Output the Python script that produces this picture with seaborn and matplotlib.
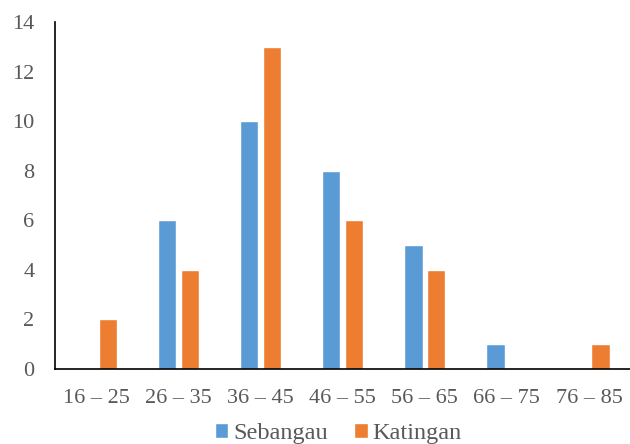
import pandas as pd
import matplotlib.pyplot as plt
import seaborn as sns

# Data
categories = ['16 – 25', '26 – 35', '36 – 45', '46 – 55', '56 – 65', '66 – 75', '76 – 85']
sebangau = [0, 6, 10, 8, 5, 1, 0]
katingan = [2, 4, 13, 6, 4, 0, 1]

COLORS = ['#5B9BD5', '#ED7D31']
TEXT = '#595959'

df = pd.DataFrame({
    'Umur': categories * 2,
    'Jumlah': sebangau + katingan,
    'Lokasi': ['Sebangau'] * len(categories) + ['Katingan'] * len(categories),
})

sns.set_style('white')
plt.rcParams['font.family'] = ['Liberation Serif', 'DejaVu Serif']

fig, ax = plt.subplots(figsize=(6.3, 4.44), dpi=100)
fig.subplots_adjust(left=0.088, right=1.0, top=0.95, bottom=0.17)

sns.barplot(data=df, x='Umur', y='Jumlah', hue='Lokasi', palette=COLORS,
            width=0.56, gap=0.2, ax=ax, saturation=1, legend=True)

ax.set_ylim(0, 14)
ax.set_yticks(range(0, 15, 2))
ax.set_xlim(-0.5, 6.5)
ax.set_xlabel('')
ax.set_ylabel('')
ax.tick_params(axis='both', length=0, labelsize=16, colors=TEXT)
ax.tick_params(axis='y', pad=15)
ax.tick_params(axis='x', pad=15)

for s in ['top', 'right']:
    ax.spines[s].set_visible(False)
for s in ['left', 'bottom']:
    ax.spines[s].set_color('black')
    ax.spines[s].set_linewidth(1.2)

ax.legend(loc='center', bbox_to_anchor=(0.537, 0.024), bbox_transform=fig.transFigure,
          ncol=2, frameon=False, borderpad=0, borderaxespad=0,
          fontsize=17.5, handlelength=0.55, handleheight=0.55, handletextpad=0.2,
          columnspacing=1.1, labelcolor=TEXT)

fig.savefig('out.png', dpi=100)
